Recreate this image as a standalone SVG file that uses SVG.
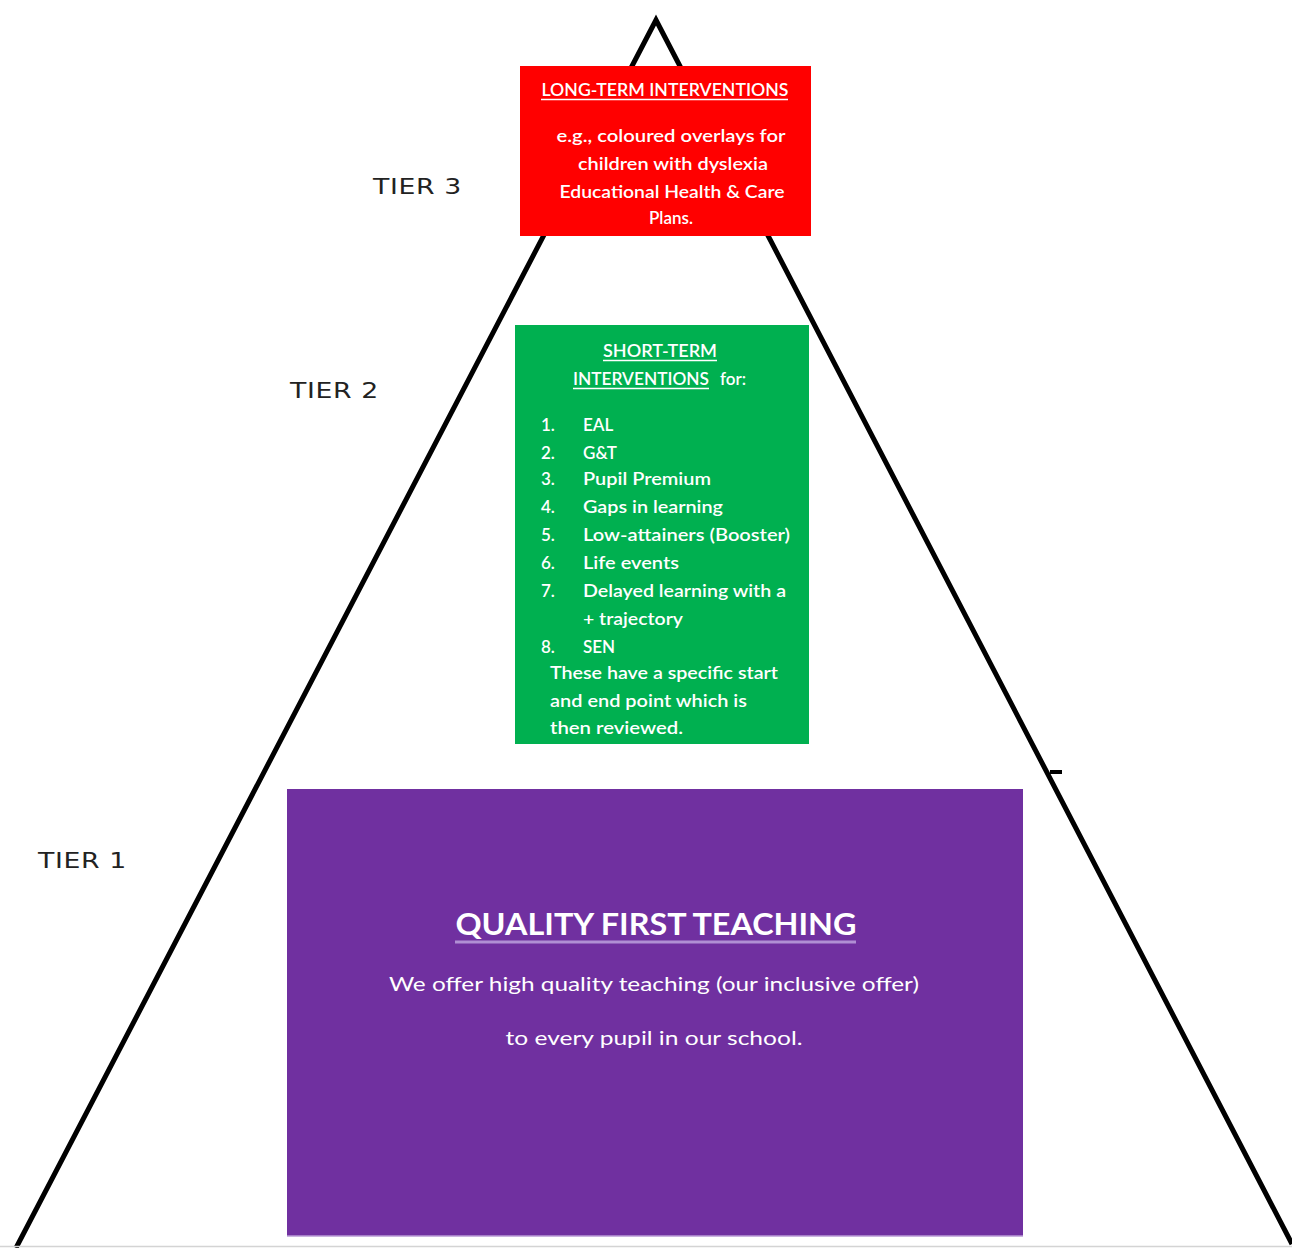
<svg xmlns="http://www.w3.org/2000/svg" width="1292" height="1248" viewBox="0 0 1292 1248">
<style>
.t{font-family:Lato,"Open Sans","Liberation Sans",sans-serif;fill:#ffffff}
.sm{font-size:17px;font-weight:600}
.tier{font-family:"DejaVu Sans","Liberation Sans",sans-serif;font-size:21px;fill:#222222;letter-spacing:0.5px}
.edge{stroke:#000000;stroke-width:5;fill:none;stroke-linejoin:miter}
.ul{stroke:#ffffff;stroke-width:1.5}
</style>
<rect width="1292" height="1248" fill="#ffffff"/>
<g id="connectors">
<path class="edge" d="M16,1248 L656,20 L1292,1244"/>
<path d="M1050,772 L1062,772" stroke="#000" stroke-width="4"/>
<line x1="0" y1="1246.5" x2="1292" y2="1246.5" stroke="#d4d4d4" stroke-width="1.5"/>
</g>
<g id="tier3-label"><text class="tier" x="373" y="194" textLength="89" lengthAdjust="spacingAndGlyphs">TIER 3</text></g>
<g id="tier2-label"><text class="tier" x="290" y="398" textLength="89" lengthAdjust="spacingAndGlyphs">TIER 2</text></g>
<g id="tier1-label"><text class="tier" x="38" y="868" textLength="89" lengthAdjust="spacingAndGlyphs">TIER 1</text></g>
<g id="tier3">
<rect x="520" y="66" width="291" height="170" fill="#ff0000"/>
<text class="t sm" x="665" y="96" text-anchor="middle" textLength="247" lengthAdjust="spacingAndGlyphs">LONG-TERM INTERVENTIONS</text>
<line class="ul" x1="541" y1="99.5" x2="788" y2="99.5"/>
<text class="t sm" x="671" y="142" text-anchor="middle" textLength="229" lengthAdjust="spacingAndGlyphs">e.g., coloured overlays for</text>
<text class="t sm" x="673" y="170" text-anchor="middle" textLength="190" lengthAdjust="spacingAndGlyphs">children with dyslexia</text>
<text class="t sm" x="672" y="198" text-anchor="middle" textLength="225" lengthAdjust="spacingAndGlyphs">Educational Health &amp; Care</text>
<text class="t sm" x="671" y="224" text-anchor="middle">Plans.</text>
</g>
<g id="tier2">
<rect x="515" y="325" width="294" height="419" fill="#00b050"/>
<text class="t sm" x="660" y="357" text-anchor="middle" textLength="114" lengthAdjust="spacingAndGlyphs">SHORT-TERM</text>
<line class="ul" x1="603" y1="360.5" x2="717" y2="360.5"/>
<text class="t sm" x="573" y="385" textLength="136" lengthAdjust="spacingAndGlyphs">INTERVENTIONS</text>
<line class="ul" x1="573" y1="388.5" x2="709" y2="388.5"/>
<text class="t sm" x="720" y="385">for:</text>
<g class="t sm">
<text x="541" y="431">1.</text><text x="583" y="431">EAL</text>
<text x="541" y="459">2.</text><text x="583" y="459">G&amp;T</text>
<text x="541" y="485">3.</text><text x="583" y="485" textLength="128" lengthAdjust="spacingAndGlyphs">Pupil Premium</text>
<text x="541" y="513">4.</text><text x="583" y="513" textLength="140" lengthAdjust="spacingAndGlyphs">Gaps in learning</text>
<text x="541" y="541">5.</text><text x="583" y="541" textLength="207" lengthAdjust="spacingAndGlyphs">Low-attainers (Booster)</text>
<text x="541" y="569">6.</text><text x="583" y="569" textLength="96" lengthAdjust="spacingAndGlyphs">Life events</text>
<text x="541" y="597">7.</text><text x="583" y="597" textLength="203" lengthAdjust="spacingAndGlyphs">Delayed learning with a</text>
<text x="583" y="625" textLength="100" lengthAdjust="spacingAndGlyphs">+ trajectory</text>
<text x="541" y="653">8.</text><text x="583" y="653">SEN</text>
<text x="550" y="679" textLength="228" lengthAdjust="spacingAndGlyphs">These have a specific start</text>
<text x="550" y="707" textLength="197" lengthAdjust="spacingAndGlyphs">and end point which is</text>
<text x="550" y="734" textLength="133" lengthAdjust="spacingAndGlyphs">then reviewed.</text>
</g>
</g>
<g id="tier1">
<rect x="287" y="789" width="736" height="447" fill="#7030a0"/>
<line x1="287" y1="1236" x2="1023" y2="1236" stroke="#b89ad6" stroke-width="1.5"/>
<text class="t" x="656" y="935" text-anchor="middle" font-size="30" font-weight="bold" textLength="401" lengthAdjust="spacingAndGlyphs">QUALITY FIRST TEACHING</text>
<line x1="455" y1="942" x2="856" y2="942" stroke="#b08fd4" stroke-width="3"/>
<text class="t" x="654" y="991" text-anchor="middle" font-size="20" textLength="530" lengthAdjust="spacingAndGlyphs">We offer high quality teaching (our inclusive offer)</text>
<text class="t" x="654" y="1045" text-anchor="middle" font-size="20" textLength="297" lengthAdjust="spacingAndGlyphs">to every pupil in our school.</text>
</g>
</svg>
